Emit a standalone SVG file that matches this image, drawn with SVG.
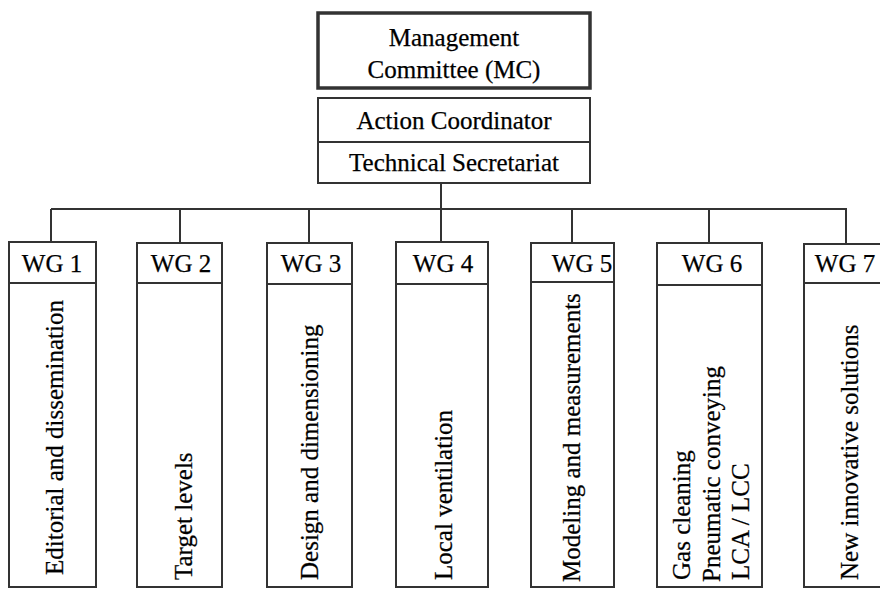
<svg xmlns="http://www.w3.org/2000/svg" width="880" height="589" viewBox="0 0 880 589">
<style>
  .box { fill: #ffffff; stroke: #333333; stroke-width: 2; }
  .thick { fill: #ffffff; stroke: #333333; stroke-width: 3.5; }
  .div { stroke: #333333; stroke-width: 2; fill: none; }
  .conn { stroke: #333333; stroke-width: 2; fill: none; }
  text { font-family: "Liberation Serif", "Times New Roman", serif; font-size: 25px; fill: #000000; stroke: #000000; stroke-width: 0.25; }
  .c { text-anchor: middle; }
</style>
<rect x="0" y="0" width="880" height="589" fill="#ffffff"/>
<g id="connectors">
  <line class="conn" x1="441" y1="183" x2="441" y2="209"/>
  <line class="conn" x1="51" y1="209" x2="847" y2="209"/>
  <line class="conn" x1="51" y1="209" x2="51" y2="242"/>
  <line class="conn" x1="180" y1="209" x2="180" y2="243"/>
  <line class="conn" x1="309" y1="209" x2="309" y2="243"/>
  <line class="conn" x1="441" y1="209" x2="441" y2="242"/>
  <line class="conn" x1="572" y1="209" x2="572" y2="243"/>
  <line class="conn" x1="709" y1="209" x2="709" y2="243"/>
  <line class="conn" x1="846" y1="209" x2="846" y2="244"/>
</g>
<g id="mc">
  <rect class="thick" x="318" y="13" width="272" height="75"/>
  <text class="c" x="454" y="46">Management</text>
  <text class="c" x="454" y="78">Committee (MC)</text>
</g>
<g id="coordinator">
  <rect class="box" x="318" y="98" width="272" height="85"/>
  <line class="div" x1="318" y1="142" x2="590" y2="142"/>
  <text class="c" x="454" y="129">Action Coordinator</text>
  <text class="c" x="454" y="171">Technical Secretariat</text>
</g>
<g id="wg1">
  <rect class="box" x="9" y="242" width="87" height="345"/>
  <line class="div" x1="9" y1="283" x2="96" y2="283"/>
  <text class="c" x="52" y="272">WG 1</text>
  <text transform="translate(63,575) rotate(-90)">Editorial and dissemination</text>
</g>
<g id="wg2">
  <rect class="box" x="137" y="243" width="85" height="344"/>
  <line class="div" x1="137" y1="283" x2="222" y2="283"/>
  <text class="c" x="181" y="272">WG 2</text>
  <text transform="translate(192,580) rotate(-90)">Target levels</text>
</g>
<g id="wg3">
  <rect class="box" x="267" y="243" width="85" height="344"/>
  <line class="div" x1="267" y1="284" x2="352" y2="284"/>
  <text class="c" x="311" y="272">WG 3</text>
  <text transform="translate(318,580) rotate(-90)">Design and dimensioning</text>
</g>
<g id="wg4">
  <rect class="box" x="396" y="242" width="92" height="345"/>
  <line class="div" x1="396" y1="284" x2="488" y2="284"/>
  <text class="c" x="443" y="272">WG 4</text>
  <text transform="translate(452,580) rotate(-90)">Local ventilation</text>
</g>
<g id="wg5">
  <rect class="box" x="531" y="243" width="83" height="344"/>
  <line class="div" x1="531" y1="282" x2="614" y2="282"/>
  <text class="c" x="582" y="272">WG 5</text>
  <text transform="translate(580,582) rotate(-90)">Modeling and measurements</text>
</g>
<g id="wg6">
  <rect class="box" x="657" y="243" width="105" height="344"/>
  <line class="div" x1="657" y1="285" x2="762" y2="285"/>
  <text class="c" x="712" y="272">WG 6</text>
  <text transform="translate(690,580) rotate(-90)">Gas cleaning</text>
  <text transform="translate(720,582) rotate(-90)">Pneumatic conveying</text>
  <text transform="translate(749,580) rotate(-90)">LCA / LCC</text>
</g>
<g id="wg7">
  <rect class="box" x="804" y="244" width="90" height="343"/>
  <line class="div" x1="804" y1="283" x2="894" y2="283"/>
  <text class="c" x="845" y="272">WG 7</text>
  <text transform="translate(858,580) rotate(-90)">New innovative solutions</text>
</g>
</svg>
